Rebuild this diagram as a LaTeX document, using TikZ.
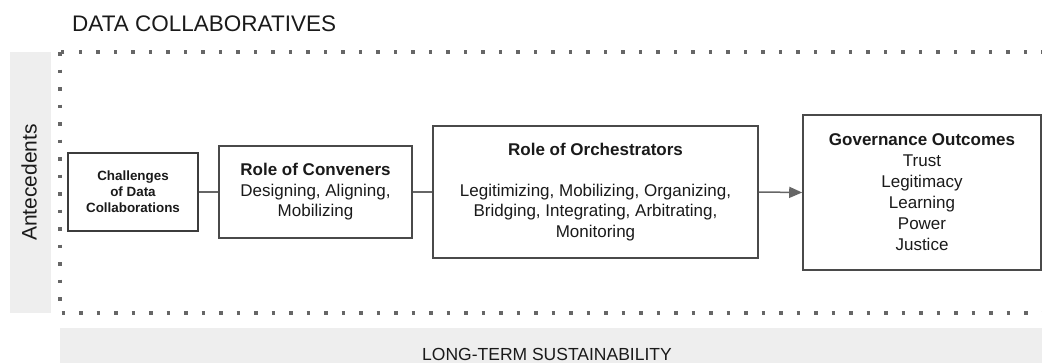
\documentclass[tikz,border=0pt]{standalone}
\usepackage{fontspec}
\setmainfont{Liberation Sans}
\usetikzlibrary{arrows.meta}
\definecolor{panel}{HTML}{EEEEEE}
\definecolor{edge}{HTML}{4A4A4A}
\definecolor{dotc}{HTML}{666666}
\definecolor{ink}{HTML}{1A1A1A}
\begin{document}
\begin{tikzpicture}[x=1pt,y=-1pt,
  stagebox/.style={draw=edge,line width=1.6pt,fill=white,inner sep=0pt,
    align=center,text=ink,font=\fontsize{17}{20.5}\selectfont},
  link/.style={draw=dotc,line width=1.5pt},
  headline/.style={font=\bfseries}]
\useasboundingbox (0,0) rectangle (1042,362);
\clip (0,0) rectangle (1042,362);

% side and bottom panels
\fill[panel] (10,52) rectangle (51,313);
\fill[panel] (60,328) rectangle (1050,370);

% dotted frame around the process chain
\draw[dotc,line width=3.5pt,dash pattern=on 3.5pt off 14pt] (60,52) rectangle (1070,313);

% headings
\node[anchor=base west,inner sep=0pt,text=ink,font=\fontsize{22.5}{26}\selectfont] (title) at (72,31.5) {DATA COLLABORATIVES};
\node[anchor=base,rotate=90,inner sep=0pt,text=ink,font=\fontsize{21}{24}\selectfont] (ante) at (36.5,182.5) {Antecedents};
\node[anchor=base,inner sep=0pt,text=ink,font=\fontsize{17.5}{20}\selectfont] (sust) at (547,360) {LONG-TERM SUSTAINABILITY};

% stages
\node[stagebox,minimum width=130pt,minimum height=78pt,line width=1.9pt,draw=ink!85,
  font=\bfseries\fontsize{13.4}{16.2}\selectfont] (chal) at (133,192)
  {Challenges\\of Data\\Collaborations};
\node[stagebox,minimum width=193pt,minimum height=92pt] (conv) at (315.5,192)
  {\textbf{Role of Conveners}\\Designing, Aligning,\\Mobilizing};
\node[stagebox,minimum width=325pt,minimum height=132pt] (orch) at (595.5,192)
  {\textbf{Role of Orchestrators}\\[20.5pt]Legitimizing, Mobilizing, Organizing,\\Bridging, Integrating, Arbitrating,\\Monitoring};
\node[stagebox,minimum width=238pt,minimum height=155pt,
  font=\fontsize{17}{21}\selectfont] (outc) at (922,192.5)
  {\textbf{Governance Outcomes}\\Trust\\Legitimacy\\Learning\\Power\\Justice};

% connectors
\draw[link] (chal.east) -- (conv.west);
\draw[link] (conv.east) -- (orch.west);
\draw[link,-{Triangle[length=13pt,width=11pt]}] (orch.east) -- (outc.west);
\end{tikzpicture}
\end{document}
